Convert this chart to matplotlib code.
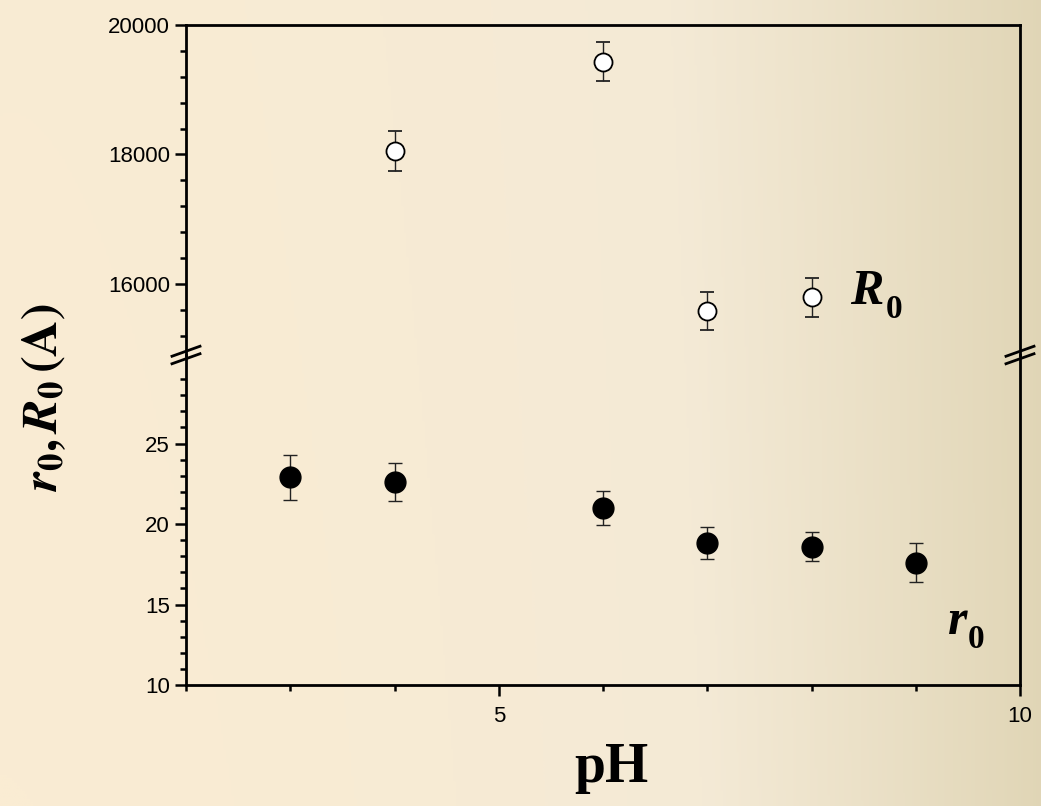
import numpy as np
import matplotlib.pyplot as plt
from matplotlib.colors import LinearSegmentedColormap

# pH values and fitted parameters
ph_r0 = [3, 4, 6, 7, 8, 9]
r0 = [22.9, 22.6, 21.0, 18.8, 18.6, 17.6]
r0_err = [1.4, 1.2, 1.05, 1.0, 0.9, 1.2]

ph_R0 = [4, 6, 7, 8]
R0 = [18050, 19430, 15580, 15790]
R0_err = [310, 300, 290, 300]

plt.rcParams['font.family'] = ['Liberation Sans', 'DejaVu Sans']

fig = plt.figure(figsize=(10.41, 8.06), dpi=100)

# background gradient
bg = fig.add_axes([0, 0, 1, 1], zorder=-10)
gx = np.linspace(0, 1, 400)
gy = np.linspace(0, 1, 300)
X, Y = np.meshgrid(gx, gy)
G = np.clip(0.75 * X ** 1.6 + 0.08 * Y * (1 - X), 0, 1)
cmap = LinearSegmentedColormap.from_list('bg', ['#faecd3', '#f4ead6', '#ded3b2'])
bg.imshow(G, cmap=cmap, aspect='auto', extent=[0, 1, 0, 1], origin='lower',
          vmin=0, vmax=0.8)
bg.axis('off')

L, R = 186 / 1041, 1020 / 1041
ytop, ybrk, ybot = 1 - 25 / 806, 1 - 355 / 806, 1 - 685 / 806
ax_t = fig.add_axes([L, ybrk, R - L, ytop - ybrk])
ax_b = fig.add_axes([L, ybot, R - L, ybrk - ybot])
for a in (ax_t, ax_b):
    a.patch.set_alpha(0)
    for s in a.spines.values():
        s.set_linewidth(2)
    a.tick_params(direction='out', width=1.8, length=8, labelsize=16, right=False, top=False)
    a.tick_params(which='minor', direction='out', width=1.8, length=4)
    a.set_xlim(2, 10)

ax_t.spines['bottom'].set_visible(False)
ax_b.spines['top'].set_visible(False)
ax_t.tick_params(axis='x', which='both', bottom=False, labelbottom=False)

ax_t.set_ylim(14900, 20000)
ax_t.set_yticks([16000, 18000, 20000])
ax_t.set_yticks(np.arange(15200, 20000, 400), minor=True)

ax_b.set_ylim(10, 30.5)
ax_b.set_yticks([10, 15, 20, 25])
ax_b.set_yticks(np.arange(11, 30, 1), minor=True)
ax_b.set_xticks([5, 10])
ax_b.set_xticks(np.arange(2, 10, 1), minor=True)
ax_b.tick_params(axis='x', pad=7)

ax_t.errorbar(ph_R0, R0, yerr=R0_err, fmt='o', ms=13, mfc='white', mec='black',
              mew=1.3, ecolor='#222222', elinewidth=1, capsize=5, capthick=1, clip_on=False)
ax_b.errorbar(ph_r0, r0, yerr=r0_err, fmt='o', ms=15, mfc='black', mec='black',
              ecolor='#222222', elinewidth=1, capsize=5, capthick=1, clip_on=False)

# break marks on both sides
for xf in (L, R):
    for dy in (-6, 6):
        yc = ybrk + dy / 806 / 1.6
        fig.add_artist(plt.Line2D([xf - 14 / 1041, xf + 14 / 1041],
                                  [yc - 5 / 806, yc + 5 / 806], color='black', lw=2))

serif = ['Liberation Serif', 'DejaVu Serif']
fig.text(850 / 1041, 1 - 292 / 806, 'R', fontsize=36, family=serif, weight='bold',
         style='italic', ha='left', va='center')
fig.text(886 / 1041, 1 - 310 / 806, '0', fontsize=24, family=serif, weight='bold',
         ha='left', va='center')
fig.text(948 / 1041, 1 - 622 / 806, 'r', fontsize=36, family=serif, weight='bold',
         style='italic', ha='left', va='center')
fig.text(968 / 1041, 1 - 640 / 806, '0', fontsize=24, family=serif, weight='bold',
         ha='left', va='center')

fig.text(611 / 1041, 1 - 768 / 806, 'pH', fontsize=40, family=serif, weight='bold',
         ha='center', va='center')
fig.text(44 / 1041, 1 - 398 / 806,
         r'$\mathbfit{r}_{\mathbf{0}}$$\mathbf{,}\,$$\mathbfit{R}_{\mathbf{0}}\,\mathbf{(A)}$',
         fontsize=36, rotation=90, ha='center', va='center',
         math_fontfamily='stix')

fig.savefig('out.png', dpi=100)
